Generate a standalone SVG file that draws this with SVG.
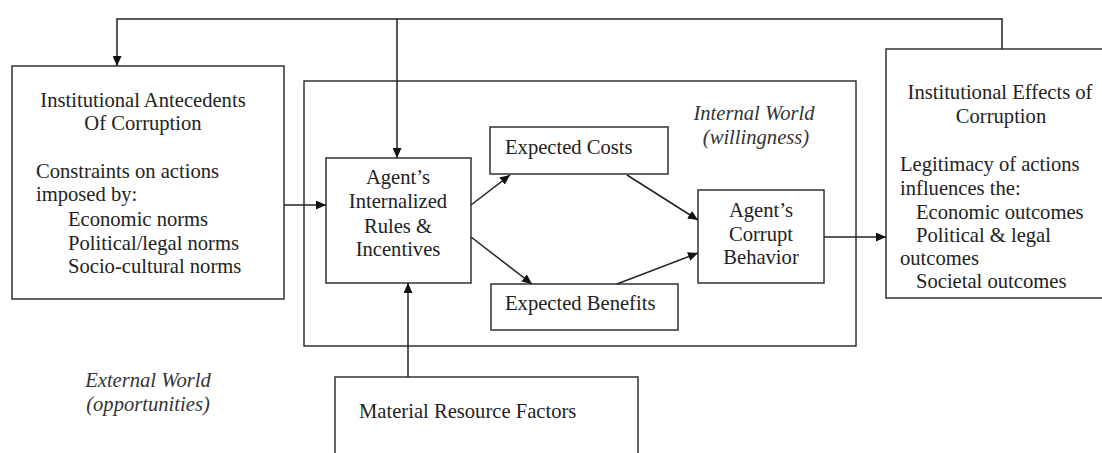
<svg xmlns="http://www.w3.org/2000/svg" width="1102" height="453" viewBox="0 0 1102 453">
<style>
.box{fill:none;stroke:#333;stroke-width:1.5}
.t{font-family:"Liberation Serif","Times New Roman",serif;font-size:20.6px;fill:#222}
.c{text-anchor:middle}
.i{font-style:italic;fill:#333}
.ln{fill:none;stroke:#222;stroke-width:1.5}
</style>
<defs>
<marker id="ah" markerUnits="userSpaceOnUse" markerWidth="11" markerHeight="9" refX="10" refY="4.5" orient="auto">
<path d="M0,0 L10,4.5 L0,9 z" fill="#111"/>
</marker>
</defs>
<rect width="1102" height="453" fill="#fff"/>
<g id="internal-world">
<rect class="box" x="304" y="81" width="552" height="265"/>
<text class="t c i" x="754" y="120">Internal World</text>
<text class="t c i" x="756" y="144">(willingness)</text>
</g>
<g id="external-world">
<text class="t c i" x="148" y="387">External World</text>
<text class="t c i" x="148" y="411">(opportunities)</text>
</g>
<g id="antecedents">
<rect class="box" x="12" y="66" width="272" height="233"/>
<text class="t c" x="143" y="107">Institutional Antecedents</text>
<text class="t c" x="143" y="130">Of Corruption</text>
<text class="t" x="36" y="178">Constraints on actions</text>
<text class="t" x="36" y="201">imposed by:</text>
<text class="t" x="68" y="226">Economic norms</text>
<text class="t" x="68" y="250">Political/legal norms</text>
<text class="t" x="68" y="273">Socio-cultural norms</text>
</g>
<g id="internalized">
<rect class="box" x="326" y="158" width="145" height="125"/>
<text class="t c" x="398" y="184">Agent’s</text>
<text class="t c" x="398" y="208">Internalized</text>
<text class="t c" x="398" y="233">Rules &amp;</text>
<text class="t c" x="398" y="256">Incentives</text>
</g>
<g id="costs">
<rect class="box" x="490" y="127" width="178" height="47"/>
<text class="t" x="505" y="154">Expected Costs</text>
</g>
<g id="benefits">
<rect class="box" x="491" y="284" width="187" height="46"/>
<text class="t" x="505" y="310">Expected Benefits</text>
</g>
<g id="corrupt">
<rect class="box" x="698" y="190" width="126" height="93"/>
<text class="t c" x="761" y="217">Agent’s</text>
<text class="t c" x="761" y="241">Corrupt</text>
<text class="t c" x="761" y="264">Behavior</text>
</g>
<g id="effects">
<rect class="box" x="886" y="49" width="230" height="249"/>
<text class="t c" x="1000" y="99">Institutional Effects of</text>
<text class="t c" x="1001" y="123">Corruption</text>
<text class="t" x="900" y="171">Legitimacy of actions</text>
<text class="t" x="900" y="195">influences the:</text>
<text class="t" x="916" y="219">Economic outcomes</text>
<text class="t" x="916" y="242">Political &amp; legal</text>
<text class="t" x="900" y="265">outcomes</text>
<text class="t" x="916" y="288">Societal outcomes</text>
</g>
<g id="material">
<rect class="box" x="335" y="377" width="303" height="90"/>
<text class="t" x="359" y="418">Material Resource Factors</text>
</g>
<g id="connectors">
<path class="ln" d="M1002,49 V19 H117 V66" marker-end="url(#ah)"/>
<path class="ln" d="M397,19 V158" marker-end="url(#ah)"/>
<path class="ln" d="M284,205 H326" marker-end="url(#ah)"/>
<path class="ln" d="M471,205 L510,175" marker-end="url(#ah)"/>
<path class="ln" d="M471,237 L532,284" marker-end="url(#ah)"/>
<path class="ln" d="M627,175 L698,220" marker-end="url(#ah)"/>
<path class="ln" d="M617,284 L698,253" marker-end="url(#ah)"/>
<path class="ln" d="M824,237 H886" marker-end="url(#ah)"/>
<path class="ln" d="M408,377 V283" marker-end="url(#ah)"/>
</g>
</svg>
